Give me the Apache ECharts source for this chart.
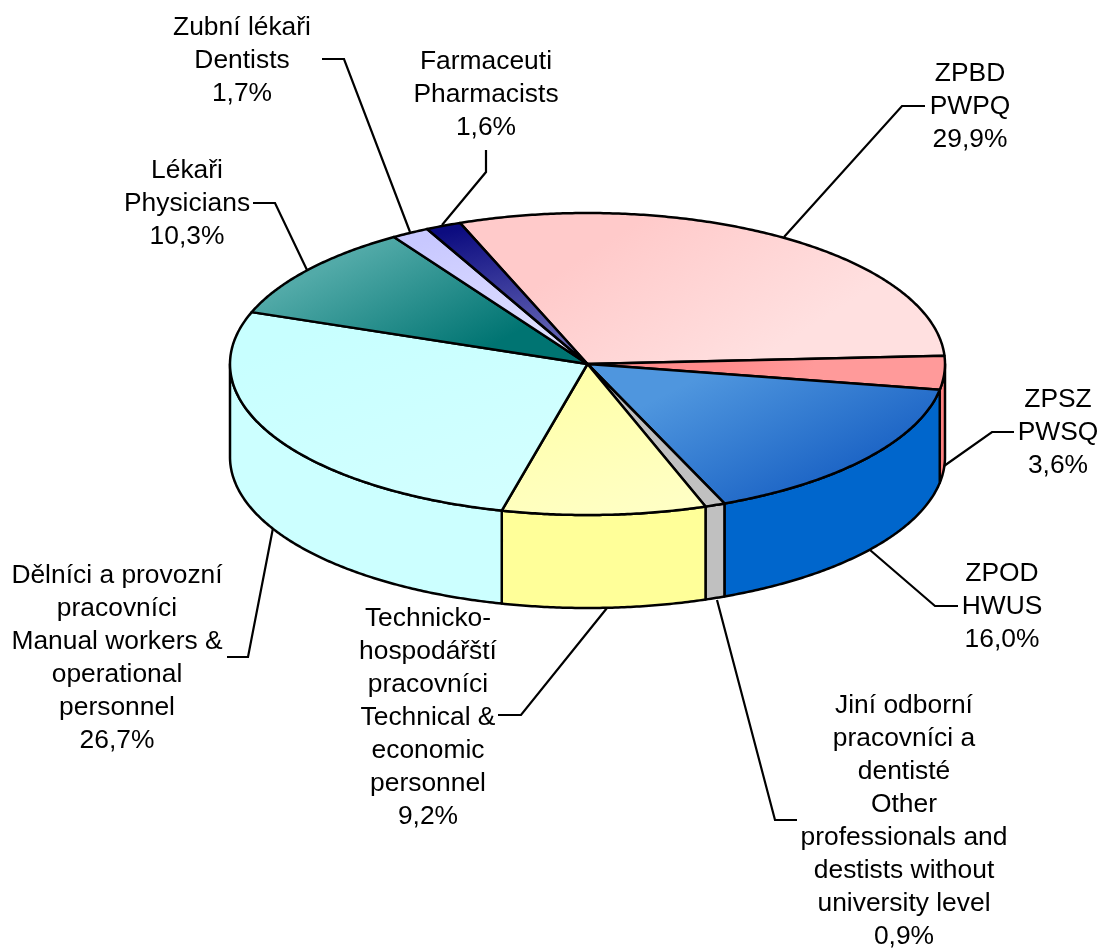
<!DOCTYPE html>
<html>
<head>
<meta charset="utf-8">
<script src="https://cdn.jsdelivr.net/npm/echarts@6/dist/echarts.min.js"></script>
<style>html,body{margin:0;padding:0;background:#fff}#c{width:1101px;height:948px}</style>
</head>
<body>
<div id="c"></div>
<script>
// ---- data ----
const names = [
  'ZPBD\nPWPQ',
  'ZPSZ\nPWSQ',
  'ZPOD\nHWUS',
  'Jiní odborní\npracovníci a\ndentisté\nOther\nprofessionals and\ndestists without\nuniversity level',
  'Technicko-\nhospodářští\npracovníci\nTechnical &\neconomic\npersonnel',
  'Dělníci a provozní\npracovníci\nManual workers &\noperational\npersonnel',
  'Lékaři\nPhysicians',
  'Zubní lékaři\nDentists',
  'Farmaceuti\nPharmacists'
];
const shares = [29.9, 3.6, 16.0, 0.9, 9.2, 26.7, 10.3, 1.7, 1.6];
const shareText = ['29,9%', '3,6%', '16,0%', '0,9%', '9,2%', '26,7%', '10,3%', '1,7%', '1,6%'];

// ---- styling and layout ----
const topColors = [
  ['#FFCACA', '#FFE0E0'], ['#FF8C8C', '#FF9A9A'], ['#4F96DE', '#1A62C4'], ['#C0C0C0', '#C0C0C0'],
  ['#FFFFA8', '#FFFFC4'], ['#C8FFFF', '#D2FFFF'], ['#52AAA8', '#007472'], ['#C8C8FF', '#E2E2FF'],
  ['#0C0C80', '#7070BC']
];
const wallColors = ['#FFCCCC', '#FF8080', '#0066CC', '#C0C0C0', '#FFFF99', '#CCFFFF', '#007777', '#CCCCFF', '#000080'];
const labelCenterX = [970, 1058, 1002, 904, 428, 117, 187, 242, 486];
const labelFirstY = [72, 398, 572, 704, 617, 574, 169, 26, 60];
const leaders = [
  [[925, 106], [902, 106], [784, 237]],
  [[1014, 432], [992, 432], [944, 466]],
  [[958, 606], [935, 606], [870, 550]],
  [[797, 820], [775, 820], [717, 600]],
  [[498, 715], [521, 715], [607, 608]],
  [[227, 657], [248, 657], [273, 528]],
  [[253, 203], [275, 203], [307, 270]],
  [[322, 59], [344, 59], [410, 232]],
  [[486, 150], [486, 172], [442, 225]]
];
const pie = { cx: 587.5, cy: 364, rx: 357.5, ry: 151, depth: 93, start: 249.1 };
const FONT = 'Liberation Sans, Arial, sans-serif', FONT_SIZE = 26.4, LINE_H = 32.9, TEXT_SHIFT = 2;

// ---- geometry derived from the values ----
const total = shares.reduce((a, b) => a + b, 0);
const spans = [];
shares.reduce((acc, v) => { const e = acc + v / total * 360; spans.push([acc, e]); return e; }, pie.start);
const pt = (deg, dy = 0) => {
  const r = deg * Math.PI / 180;
  return [pie.cx + pie.rx * Math.cos(r), pie.cy + pie.ry * Math.sin(r) + dy];
};
const arc = (a, b, dy = 0) => {
  const pts = [], n = Math.max(2, Math.ceil(Math.abs(b - a) * 2));
  for (let i = 0; i <= n; i++) pts.push(pt(a + (b - a) * i / n, dy));
  return pts;
};
const front = (s, e) => {
  for (const k of [0, 360, -360]) {
    const a = Math.max(s, k), b = Math.min(e, k + 180);
    if (b > a) return [a, b];
  }
  return null;
};
const grad = c => new echarts.graphic.LinearGradient(0.4, 0, 0.6, 1, [{ offset: 0, color: c[0] }, { offset: 1, color: c[1] }]);
const seriesData = shares.map((v, i) => ({ value: v, name: names[i] }));

const chart = echarts.init(document.getElementById('c'), null, { renderer: 'canvas' });
chart.setOption({
  animation: false,
  backgroundColor: '#ffffff',
  series: [
    {
      type: 'custom', coordinateSystem: 'none', z: 1, silent: true, data: seriesData,
      renderItem(p) {
        const i = p.dataIndex, f = front(spans[i][0], spans[i][1]);
        if (!f) return { type: 'group', children: [] };
        return {
          type: 'polygon',
          shape: { points: arc(f[0], f[1]).concat(arc(f[1], f[0], pie.depth)) },
          style: { fill: wallColors[i], stroke: '#000', lineWidth: 2.5, lineJoin: 'round' }
        };
      }
    },
    {
      type: 'custom', coordinateSystem: 'none', z: 2, silent: true, data: seriesData,
      renderItem(p) {
        const i = p.dataIndex;
        return {
          type: 'polygon',
          shape: { points: [[pie.cx, pie.cy]].concat(arc(spans[i][0], spans[i][1])) },
          style: { fill: grad(topColors[i]), stroke: '#000', lineWidth: 2.5, lineJoin: 'round' }
        };
      }
    },
    {
      type: 'custom', coordinateSystem: 'none', z: 3, silent: true, data: seriesData,
      renderItem(p) {
        const i = p.dataIndex;
        return {
          type: 'group',
          children: [
            { type: 'polyline', shape: { points: leaders[i] }, style: { fill: 'none', stroke: '#000', lineWidth: 2.2 } },
            {
              type: 'text',
              style: {
                x: labelCenterX[i], y: labelFirstY[i] - LINE_H / 2 + TEXT_SHIFT,
                text: names[i] + '\n' + shareText[i],
                align: 'center', verticalAlign: 'top',
                font: FONT_SIZE + 'px ' + FONT, lineHeight: LINE_H, fill: '#000'
              }
            }
          ]
        };
      }
    }
  ]
});
</script>
</body>
</html>
